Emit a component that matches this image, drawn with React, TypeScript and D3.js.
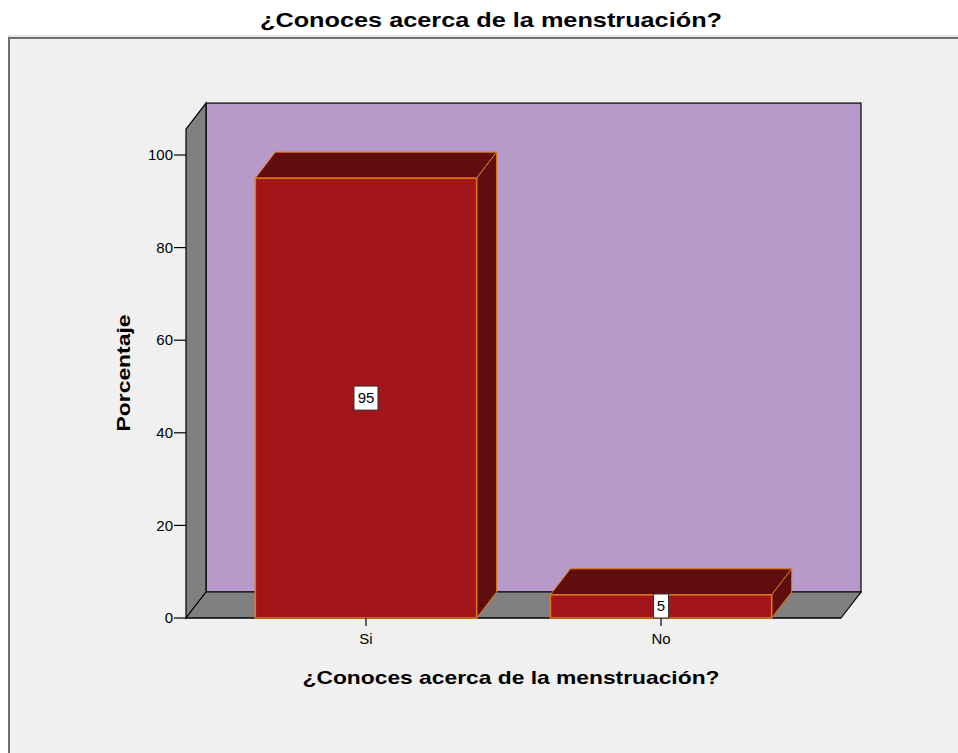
import React from "react";
import * as d3 from "d3";

const categories = ["Si", "No"];
const values = [95, 5];
const yTicks = [0, 20, 40, 60, 80, 100];
const title = "¿Conoces acerca de la menstruación?";
const xTitle = "¿Conoces acerca de la menstruación?";
const yTitle = "Porcentaje";

export default function App() {
  const W = 958, H = 753;
  const left = 186, right = 841, bottom = 618;
  const dx = 20, dy = -26;
  const y = d3.scaleLinear().domain([0, 100]).range([bottom, 155]);
  const yMax = 105.6;
  const top = y(yMax);
  const x = d3.scalePoint<string>().domain(categories).range([left, right]).padding(0.61);
  const step = x.step();
  const bw = step * 0.75;

  const font = "'Liberation Sans', Arial, sans-serif";
  const barFront = "#a2161a";
  const barDark = "#600d10";
  const barEdge = "#e07a12";
  const gray = "#808080";
  const wall = "#b89aca";

  return (
    <svg width={W} height={H} style={{ position: "absolute", left: 0, top: 0 }} fontFamily={font}>
      <rect x={0} y={0} width={W} height={H} fill="#ffffff" />
      <rect x={9} y={38} width={W + 20} height={H + 20} fill="#f0f0f0" stroke="#6e6e6e" strokeWidth={2} />
      <line x1={8} x2={W} y1={36} y2={36} stroke="#c8c8c8" strokeWidth={1} />
      <text x={491} y={27} textAnchor="middle" fontSize={21} fontWeight="bold" fill="#000"
        textLength={462} lengthAdjust="spacingAndGlyphs">{title}</text>

      {/* back wall */}
      <rect x={left + dx} y={top + dy} width={right - left} height={bottom - top} fill={wall} stroke="#000" strokeWidth={1.2} />
      {/* left wall */}
      <polygon
        points={`${left},${top} ${left + dx},${top + dy} ${left + dx},${bottom + dy} ${left},${bottom}`}
        fill={gray} stroke="#000" strokeWidth={1.2} />
      {/* floor */}
      <polygon
        points={`${left},${bottom} ${left + dx},${bottom + dy} ${right + dx},${bottom + dy} ${right},${bottom}`}
        fill={gray} stroke="#000" strokeWidth={1.2} />

      {/* y axis ticks */}
      {yTicks.map((t) => (
        <g key={t}>
          <line x1={left - 12} x2={left} y1={y(t)} y2={y(t)} stroke="#000" strokeWidth={1.2} />
          <text x={left - 13} y={y(t)} dy="0.35em" textAnchor="end" fontSize={15} fill="#000">{t}</text>
        </g>
      ))}
      <line x1={left} x2={right} y1={bottom} y2={bottom} stroke="#000" strokeWidth={1.2} />

      {/* bars */}
      {categories.map((c, i) => {
        const cx = x(c)!;
        const x0 = cx - bw / 2, x1 = cx + bw / 2;
        const yt = y(values[i]);
        return (
          <g key={c}>
            <polygon points={`${x0},${yt} ${x0 + dx},${yt + dy} ${x1 + dx},${yt + dy} ${x1},${yt}`}
              fill={barDark} stroke={barEdge} strokeWidth={1} />
            <polygon points={`${x1},${yt} ${x1 + dx},${yt + dy} ${x1 + dx},${bottom + dy} ${x1},${bottom}`}
              fill={barDark} stroke={barEdge} strokeWidth={1} />
            <rect x={x0} y={yt} width={bw} height={bottom - yt} fill={barFront} stroke={barEdge} strokeWidth={1.5} />
          </g>
        );
      })}

      {/* x ticks and labels */}
      {categories.map((c) => (
        <g key={c}>
          <line x1={x(c)!} x2={x(c)!} y1={bottom} y2={bottom + 8} stroke="#000" strokeWidth={1.2} />
          <text x={x(c)!} y={bottom + 21} dy="0.35em" textAnchor="middle" fontSize={15} fill="#000">{c}</text>
        </g>
      ))}

      {/* value labels */}
      {categories.map((c, i) => {
        const cx = x(c)!;
        const cy = y(values[i] / 2);
        const lbl = String(values[i]);
        const w = lbl.length * 9 + 6;
        const ly = values[i] < 10 ? 606 : cy;
        return (
          <g key={c + "l"}>
            <rect x={cx - w / 2} y={ly - 12} width={w} height={24} fill="#fff" stroke="#333" strokeWidth={1} />
            <text x={cx} y={ly} dy="0.36em" textAnchor="middle" fontSize={15} fill="#000">{lbl}</text>
          </g>
        );
      })}

      <text transform={`translate(130,${373}) rotate(-90)`} textAnchor="middle" fontSize={19} fontWeight="bold" fill="#000"
        textLength={117} lengthAdjust="spacingAndGlyphs">{yTitle}</text>
      <text x={511} y={684} textAnchor="middle" fontSize={19} fontWeight="bold" fill="#000"
        textLength={417} lengthAdjust="spacingAndGlyphs">{xTitle}</text>
    </svg>
  );
}
